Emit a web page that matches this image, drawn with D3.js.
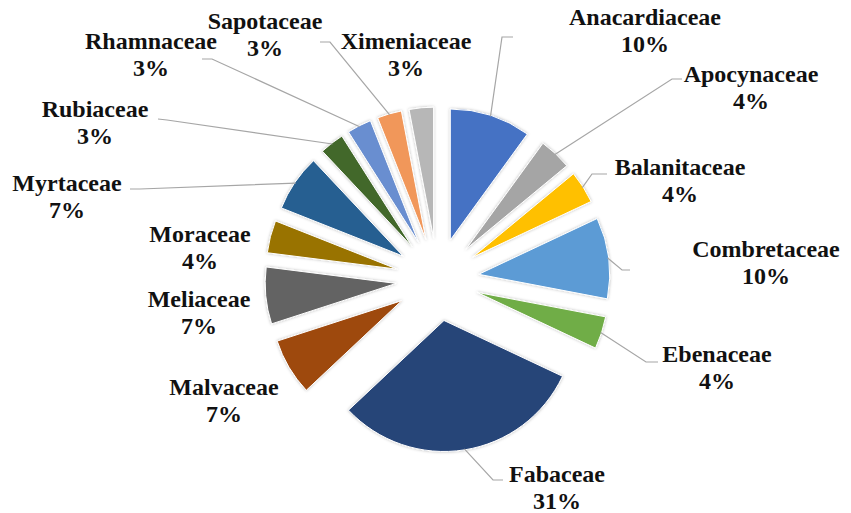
<!DOCTYPE html>
<html>
<head>
<meta charset="utf-8">
<script src="https://cdn.jsdelivr.net/npm/d3@7"></script>
<style>
  html, body { margin: 0; padding: 0; background: #ffffff; }
  svg { display: block; }
</style>
</head>
<body>
<svg id="chart" width="851" height="513"></svg>
<script>
// Tree families and their share of recorded species (%)
const families = [
  "Anacardiaceae", "Apocynaceae", "Balanitaceae", "Combretaceae", "Ebenaceae",
  "Fabaceae", "Malvaceae", "Meliaceae", "Moraceae", "Myrtaceae",
  "Rubiaceae", "Rhamnaceae", "Sapotaceae", "Ximeniaceae"
];
const shares = [10, 4, 4, 10, 4, 31, 7, 7, 4, 7, 3, 3, 3, 3];

// Slice colours, one per family
const palette = [
  "#4472C4", "#A5A5A5", "#FFC000", "#5B9BD5", "#70AD47",
  "#264478", "#9E480E", "#636363", "#997300", "#255E91",
  "#43682B", "#698ED0", "#F1975A", "#B7B7B7"
];

// Label placement: centre x, first-line baseline, and the label-side
// points of the leader line (empty when the label has no leader).
const labelLayout = {
  "Anacardiaceae": { x: 645, y: 25,  leader: [[513, 37], [502, 37]] },
  "Apocynaceae":   { x: 751, y: 82,  leader: [[682, 79], [672, 79]] },
  "Balanitaceae":  { x: 680, y: 175, leader: [[607, 174], [592, 174]] },
  "Combretaceae":  { x: 766, y: 257, leader: [[630, 270], [622, 270]] },
  "Ebenaceae":     { x: 717, y: 362, leader: [[658, 362], [646, 362]] },
  "Fabaceae":      { x: 557, y: 482, leader: [[503, 480], [493, 480]] },
  "Malvaceae":     { x: 224, y: 395, leader: [] },
  "Meliaceae":     { x: 199, y: 307, leader: [] },
  "Moraceae":      { x: 200, y: 242, leader: [] },
  "Myrtaceae":     { x: 67,  y: 191, leader: [[130, 189], [140, 189]] },
  "Rubiaceae":     { x: 95,  y: 117, leader: [[158, 119], [167, 120]] },
  "Rhamnaceae":    { x: 151, y: 49,  leader: [[202, 59], [212, 59]] },
  "Sapotaceae":    { x: 265, y: 29,  leader: [[320, 42], [330, 42]] },
  "Ximeniaceae":   { x: 406, y: 49,  leader: [] }
};

const svg = d3.select("#chart");
const cx = 437.5, cy = 279.5;   // pie centre
const radius = 131;             // slice radius
const explode = 41.5;           // distance each slice is pulled out
const lineGap = 27;             // spacing between name and percentage

const defs = svg.append("defs");
const glow = defs.append("filter")
  .attr("id", "sliceShadow")
  .attr("x", "-20%").attr("y", "-20%")
  .attr("width", "140%").attr("height", "140%");
glow.append("feDropShadow")
  .attr("dx", 0).attr("dy", 0)
  .attr("stdDeviation", 1.6)
  .attr("flood-color", "#000")
  .attr("flood-opacity", 0.28);

const pie = d3.pie().sort(null).value(d => d).startAngle(0).endAngle(2 * Math.PI);
const arcs = pie(shares).map((a, i) => Object.assign(a, { name: families[i], color: palette[i] }));

const arc = d3.arc().innerRadius(0).outerRadius(radius);
const dir = a => {
  const m = (a.startAngle + a.endAngle) / 2;
  return [Math.sin(m), -Math.cos(m)];
};

const pieG = svg.append("g").attr("transform", `translate(${cx},${cy})`);

pieG.selectAll("path.slice")
  .data(arcs)
  .join("path")
  .attr("class", "slice")
  .attr("transform", d => {
    const [ux, uy] = dir(d);
    return `translate(${ux * explode},${uy * explode})`;
  })
  .attr("d", arc)
  .attr("fill", d => d.color)
  .attr("stroke", "#ffffff")
  .attr("stroke-width", 1)
  .attr("filter", "url(#sliceShadow)");

// Leader lines from the label to the middle of each slice's rim
const line = d3.line();
svg.append("g")
  .selectAll("path.leader")
  .data(arcs.filter(d => labelLayout[d.name].leader.length))
  .join("path")
  .attr("class", "leader")
  .attr("fill", "none")
  .attr("stroke", "#A6A6A6")
  .attr("stroke-width", 1.2)
  .attr("d", d => {
    const [ux, uy] = dir(d);
    const rim = [cx + ux * (explode + radius - 1), cy + uy * (explode + radius - 1)];
    return line(labelLayout[d.name].leader.concat([rim]));
  });

// Two-line data labels: family name and percentage, one text element per line
const labelLines = arcs.flatMap(d => [
  { text: d.name, x: labelLayout[d.name].x, y: labelLayout[d.name].y },
  { text: d.data + "%", x: labelLayout[d.name].x, y: labelLayout[d.name].y + lineGap }
]);

svg.append("g")
  .selectAll("text")
  .data(labelLines)
  .join("text")
  .attr("x", d => d.x)
  .attr("y", d => d.y)
  .attr("text-anchor", "middle")
  .attr("fill", "#111111")
  .style("font-family", '"Liberation Serif"')
  .style("font-weight", "bold")
  .style("font-size", "24px")
  .text(d => d.text);
</script>
</body>
</html>
